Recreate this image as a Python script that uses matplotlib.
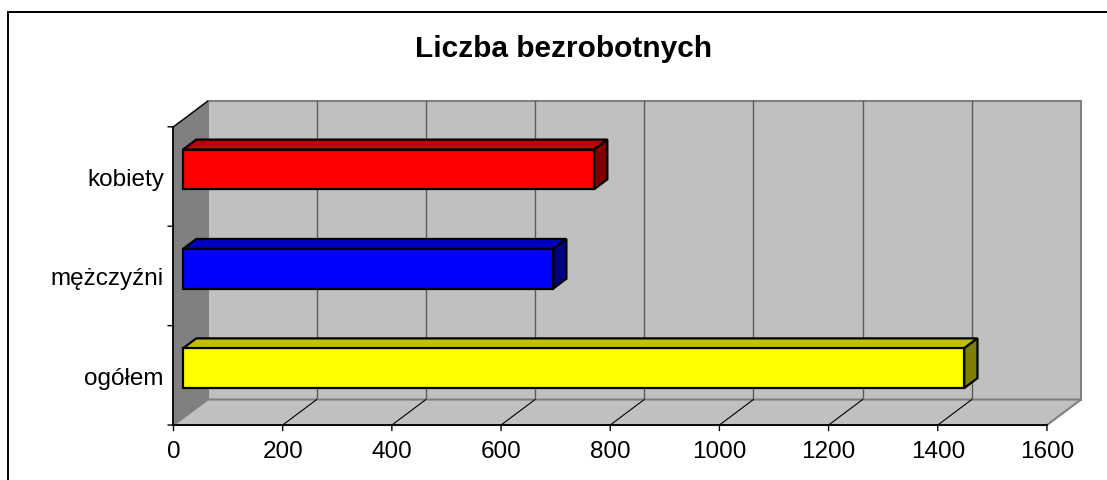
import matplotlib
matplotlib.use('Agg')
from matplotlib import pyplot as plt
from matplotlib.patches import Polygon, Rectangle

plt.rcParams['font.family'] = ['Liberation Sans', 'DejaVu Sans']

TITLE = 'Liczba bezrobotnych'
CATEGORIES = ['ogółem', 'mężczyźni', 'kobiety']
VALUES = [1431, 678, 753]
FRONT_COLORS = ['#FFFF00', '#0000FF', '#FF0000']
TOP_COLORS = ['#C0C000', '#0000C0', '#C00000']
SIDE_COLORS = ['#808000', '#000080', '#800000']
X_TICKS = [0, 200, 400, 600, 800, 1000, 1200, 1400, 1600]

# fake 3d: depth vector in data units (value, category)
DX = 62.3
DY = 0.2565
BAR_D1, BAR_D2 = 0.28, 0.67
BAR_H = 0.40
XMAX = X_TICKS[-1]


def proj(v, c, d):
    return (v + d * DX, c + d * DY)


def quad(ax, pts, face, edge, lw, z):
    ax.add_patch(Polygon([proj(*p) for p in pts], closed=True, facecolor=face,
                         edgecolor=edge, linewidth=lw, zorder=z, joinstyle='miter'))


fig = plt.figure(figsize=(11.07, 4.8), dpi=100)
ax = fig.add_axes([0, 0, 1, 1])
ax.set_xlim(-317.8, 1710)
ax.set_ylim(-1.053, 3.776)
ax.axis('off')

lo, hi = -0.5, len(CATEGORIES) - 0.5

# back wall
quad(ax, [(0, lo, 1), (XMAX, lo, 1), (XMAX, hi, 1), (0, hi, 1)], '#C0C0C0', '#808080', 1.5, 1)
for v in X_TICKS[1:-1]:
    xs, ys = zip(proj(v, lo, 1), proj(v, hi, 1))
    ax.plot(xs, ys, color='#5a5a5a', lw=1.0, zorder=2)

# side wall
quad(ax, [(0, lo, 0), (0, hi, 0), (0, hi, 1), (0, lo, 1)], '#808080', '#808080', 1.0, 3)
# floor
quad(ax, [(0, lo, 0), (XMAX, lo, 0), (XMAX, lo, 1), (0, lo, 1)], '#C0C0C0', '#808080', 1.5, 3)
for v in X_TICKS[1:-1]:
    xs, ys = zip(proj(v, lo, 0), proj(v, lo, 1))
    ax.plot(xs, ys, color='black', lw=0.8, zorder=4)

# axes lines
xs, ys = zip(proj(0, hi, 0), proj(0, hi, 1))
ax.plot(xs, ys, color='black', lw=1.0, zorder=5)
ax.plot([0, 0], [lo, hi], color='black', lw=1.3, zorder=5)
ax.plot([0, XMAX], [lo, lo], color='black', lw=1.3, zorder=5)

for v in X_TICKS:
    ax.annotate('', xy=(v, lo), xytext=(0, -4), textcoords='offset points',
                arrowprops=dict(arrowstyle='-', color='black', lw=1.0, shrinkA=0, shrinkB=0))
    ax.annotate(str(v), xy=(v, lo), xytext=(0, -23.8), textcoords='offset points',
                ha='center', va='baseline', fontsize=17.5, color='black')

for i in range(len(CATEGORIES) + 1):
    ax.annotate('', xy=(0, lo + i), xytext=(-4, 0), textcoords='offset points',
                arrowprops=dict(arrowstyle='-', color='black', lw=1.0, shrinkA=0, shrinkB=0))

for i, name in enumerate(CATEGORIES):
    ax.annotate(name, xy=(0, i), xytext=(-7, -6.7), textcoords='offset points',
                ha='right', va='baseline', fontsize=17.5, color='black')

# bars
for i, v in enumerate(VALUES):
    b, t = i - BAR_H / 2, i + BAR_H / 2
    quad(ax, [(0, t, BAR_D1), (v, t, BAR_D1), (v, t, BAR_D2), (0, t, BAR_D2)],
         TOP_COLORS[i], 'black', 1.6, 6)
    quad(ax, [(v, b, BAR_D1), (v, t, BAR_D1), (v, t, BAR_D2), (v, b, BAR_D2)],
         SIDE_COLORS[i], 'black', 1.6, 6)
    quad(ax, [(0, b, BAR_D1), (v, b, BAR_D1), (v, t, BAR_D1), (0, t, BAR_D1)],
         FRONT_COLORS[i], 'black', 1.6, 7)

# chart frame and title
fig.patches.append(Rectangle((8 / 1107, -0.1), 1.1, 1.1 - 11.5 / 480, transform=fig.transFigure,
                             fill=False, edgecolor='black', linewidth=1.4))
fig.text(564 / 1107, 1 - 56.7 / 480, TITLE, ha='center', va='baseline',
         fontsize=21.5, fontweight='bold', color='black')

fig.savefig('out.png', dpi=100)
